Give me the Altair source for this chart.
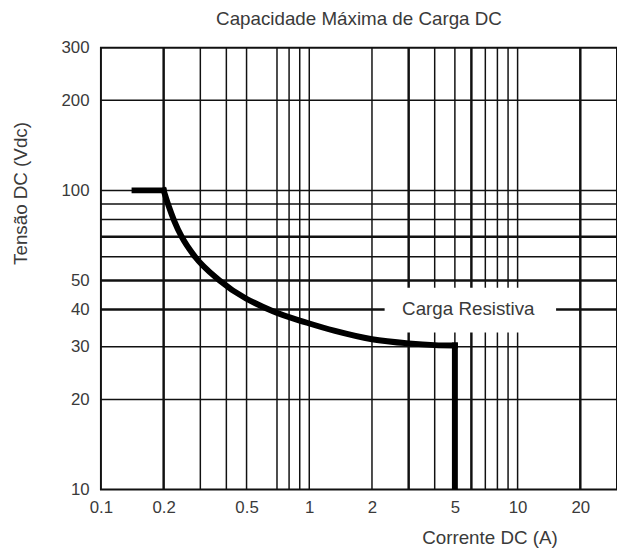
import altair as alt
import pandas as pd

# ---- data ----
title_text = "Capacidade Máxima de Carga DC"
x_title = "Corrente DC (A)"
y_title = "Tensão DC (Vdc)"

x_ticks = [0.1, 0.2, 0.5, 1, 2, 5, 10, 20]
y_ticks = [10, 20, 30, 40, 50, 100, 200, 300]

x_grid_thin = [0.3, 0.4, 0.5, 0.7, 0.8, 0.9, 1, 2, 4, 5, 7, 8, 9, 10]
x_grid_thick = [0.2, 3, 6, 20]
y_grid_thin = [20, 30, 60, 80, 90, 100, 200]
y_grid_thick = [40, 50, 70]

# limit curve, in three pieces: flat top, knee curve, vertical drop
flat_x = [0.145, 0.2]
flat_y = [100, 100]
knee_x = [0.2, 0.211, 0.225, 0.244, 0.283, 0.371, 0.665, 0.975, 1.33, 2.0, 3.0, 4.0, 5.0]
knee_y = [100, 89, 79, 70, 60, 50, 39.5, 36.1, 33.9, 31.8, 30.8, 30.4, 30.3]
drop_x = [5.0, 5.0]
drop_y = [30.3, 10]

label_text = "Carga Resistiva"
label_x = 5.8
label_y = 40
box_x = [2.3, 15.3]
box_y = [33.5, 47.3]

x_domain = [0.1, 30]
y_domain = [10, 300]

FONT = "Liberation Sans"
TXT = "#3a3a3a"

xs = alt.Scale(type="log", domain=x_domain, nice=False, zero=False)
ys = alt.Scale(type="log", domain=y_domain, nice=False, zero=False)

x_axis = alt.Axis(values=x_ticks, grid=False, ticks=False, domain=False,
                  labelFontSize=17, labelColor=TXT, labelFont=FONT, labelPadding=10,
                  labelFlush=False, labelExpr="datum.value",
                  title=x_title, titleFontSize=19, titleFont=FONT, titleColor=TXT,
                  titleFontWeight="normal", titleX=393, titleY=49,
                  titleAlign="center", titleBaseline="middle")
y_axis = alt.Axis(values=y_ticks, grid=False, ticks=False, domain=False,
                  labelFontSize=17, labelColor=TXT, labelFont=FONT, labelPadding=12,
                  labelFlush=False, labelExpr="datum.value",
                  title=y_title, titleFontSize=19, titleFont=FONT, titleColor=TXT,
                  titleFontWeight="normal", titleX=-81, titleY=147,
                  titleAlign="center", titleBaseline="middle")

base_df = pd.DataFrame({"x": [x_domain[0]], "y": [y_domain[0]]})
axes = alt.Chart(base_df).mark_point(opacity=0).encode(
    x=alt.X("x:Q", scale=xs, axis=x_axis),
    y=alt.Y("y:Q", scale=ys, axis=y_axis),
)

def vrules(vals, w):
    return alt.Chart(pd.DataFrame({"x": vals})).mark_rule(color="#111111", strokeWidth=w).encode(
        x=alt.X("x:Q", scale=xs))

def hrules(vals, w):
    return alt.Chart(pd.DataFrame({"y": vals})).mark_rule(color="#111111", strokeWidth=w).encode(
        y=alt.Y("y:Q", scale=ys))

box = alt.Chart(pd.DataFrame({"x": [box_x[0]], "x2": [box_x[1]], "y": [box_y[0]], "y2": [box_y[1]]})).mark_rect(
    color="white").encode(
    x=alt.X("x:Q", scale=xs), x2="x2:Q", y=alt.Y("y:Q", scale=ys), y2="y2:Q")

label = alt.Chart(pd.DataFrame({"x": [label_x], "y": [label_y], "t": [label_text]})).mark_text(
    fontSize=19, font=FONT, color=TXT, align="center", baseline="middle").encode(
    x=alt.X("x:Q", scale=xs), y=alt.Y("y:Q", scale=ys), text="t:N")

def piece(xv, yv, name, interp):
    df = pd.DataFrame({"x": xv, "y": yv, "o": list(range(len(xv))), "seg": name})
    return alt.Chart(df).mark_line(color="black", strokeWidth=6, strokeCap="square",
                                   strokeJoin="miter", interpolate=interp, clip=True).encode(
        x=alt.X("x:Q", scale=xs), y=alt.Y("y:Q", scale=ys), order="o:Q")

curve = piece(flat_x, flat_y, "flat", "linear") + piece(knee_x, knee_y, "knee", "monotone") + \
    piece(drop_x, drop_y, "drop", "linear")

chart = alt.layer(
    axes,
    vrules(x_grid_thin, 1.5), vrules(x_grid_thick, 2.5),
    hrules(y_grid_thin, 1.5), hrules(y_grid_thick, 2.5),
    box, label, curve,
).properties(
    width=522, height=447,
    title=alt.TitleParams(title_text, fontSize=19, font=FONT, color=TXT,
                          fontWeight="normal", anchor="middle", offset=10),
    autosize=alt.AutoSizeParams(type="none"),
    padding={"left": 94, "top": 37, "right": 0, "bottom": 58},
).configure_view(stroke="#111111", strokeWidth=2)

chart.save("out.html", embed_options={"renderer": "svg", "actions": False})
